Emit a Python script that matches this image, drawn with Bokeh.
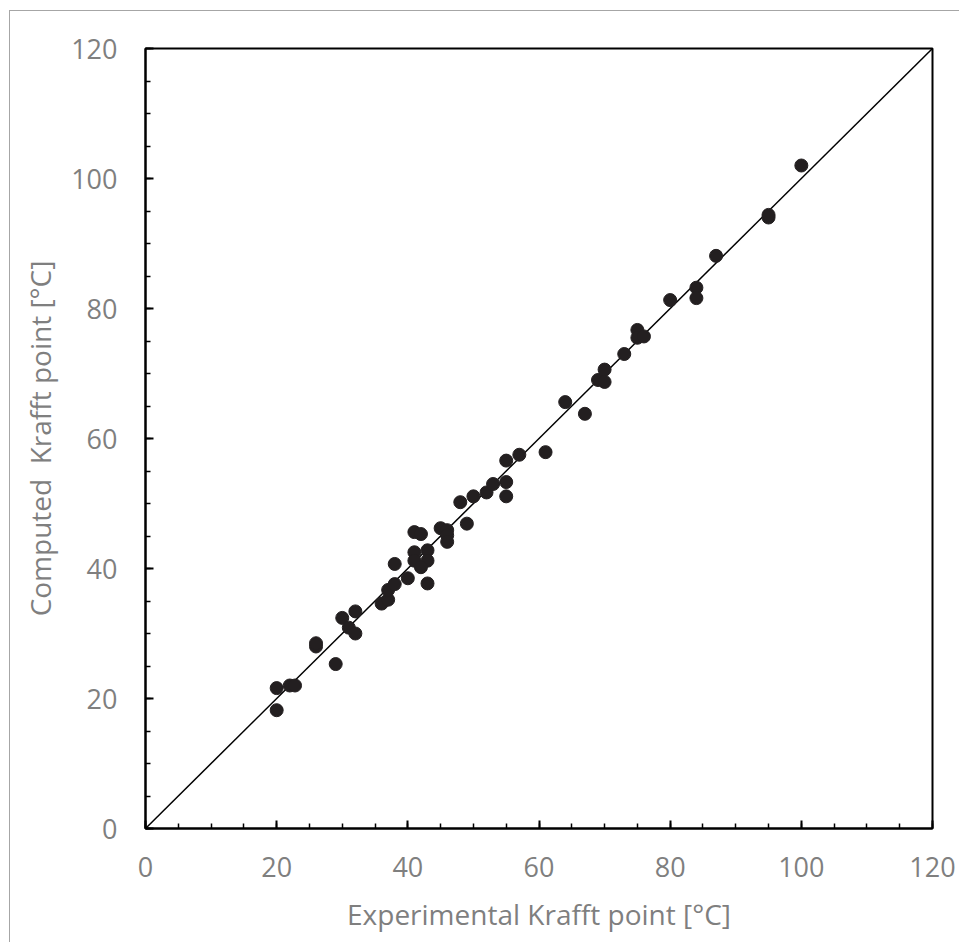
from bokeh.plotting import figure
from bokeh.models import Range1d, FixedTicker, InlineStyleSheet
from bokeh.embed import file_html
from bokeh.resources import INLINE

experimental = [20, 20, 22, 22.8, 29, 26, 26, 30, 32, 31, 32, 36, 37, 37, 38, 38, 40, 43,
                41, 42, 41, 43, 41, 43, 42, 45, 46, 46, 46, 49, 48, 50, 52, 53, 55, 55,
                55, 57, 61, 64, 67, 69, 70, 70, 73, 75, 75, 76, 80, 84, 84, 87, 95, 95, 100]
computed = [18.2, 21.6, 22.0, 22.0, 25.3, 28.0, 28.5, 32.4, 33.4, 30.9, 30.0, 34.6, 35.2, 36.7,
            37.6, 40.7, 38.5, 37.7, 45.6, 45.3, 42.5, 42.8, 41.2, 41.2, 40.2, 46.2, 45.9, 45.1,
            44.1, 46.9, 50.2, 51.1, 51.7, 53.0, 53.3, 51.1, 56.6, 57.5, 57.9, 65.6, 63.8, 69.0,
            68.7, 70.6, 73.0, 76.7, 75.5, 75.7, 81.3, 83.2, 81.6, 88.1, 94.0, 94.4, 102.0]
parity_x = [0, 120]
parity_y = [0, 120]
major_ticks = [0, 20, 40, 60, 80, 100, 120]

FONT = "Open Sans"
GRAY = "#7f7f7f"

p = figure(width=959, height=942, output_backend="svg", toolbar_location=None,
           x_range=Range1d(0, 120), y_range=Range1d(0, 120),
           min_border_left=145, min_border_right=27, min_border_top=48, min_border_bottom=114)

p.line(parity_x, parity_y, line_color="#000000", line_width=1.5)
p.scatter(experimental, computed, size=13, fill_color="#231f20", line_color="#231f20")

p.grid.visible = False
p.outline_line_color = "#000000"
p.outline_line_width = 2
p.background_fill_color = "white"
p.border_fill_color = "white"

for ax in (p.xaxis[0], p.yaxis[0]):
    ax.ticker = FixedTicker(ticks=major_ticks, minor_ticks=list(range(0, 121, 5)))
    ax.axis_line_color = "#000000"
    ax.axis_line_width = 2
    ax.major_tick_in = 8
    ax.major_tick_out = 0
    ax.minor_tick_in = 5
    ax.minor_tick_out = 0
    ax.major_tick_line_color = "#000000"
    ax.major_tick_line_width = 2
    ax.minor_tick_line_color = "#000000"
    ax.minor_tick_line_width = 1.5
    ax.major_label_text_font = FONT
    ax.major_label_text_font_size = "27px"
    ax.major_label_text_color = GRAY
    ax.axis_label_text_font = FONT
    ax.axis_label_text_font_size = "28px"
    ax.axis_label_text_color = GRAY
    ax.axis_label_text_font_style = "normal"

p.xaxis.major_label_standoff = 28
p.yaxis.major_label_standoff = 28
p.xaxis.axis_label_standoff = 15
p.yaxis.axis_label_standoff = 9

p.xaxis.axis_label = "Experimental Krafft point [°C]"
p.yaxis.axis_label = "Computed\u00a0 Krafft point [°C]"

p.stylesheets = [InlineStyleSheet(css="""
:host { position: relative; }
:host::after { content: ''; position: absolute; left: 9px; top: 10px; right: -10px; bottom: -10px;
  border: 1.5px solid #a6a6a6; pointer-events: none; }
""")]

open("out.html", "w").write(file_html(p, INLINE))
